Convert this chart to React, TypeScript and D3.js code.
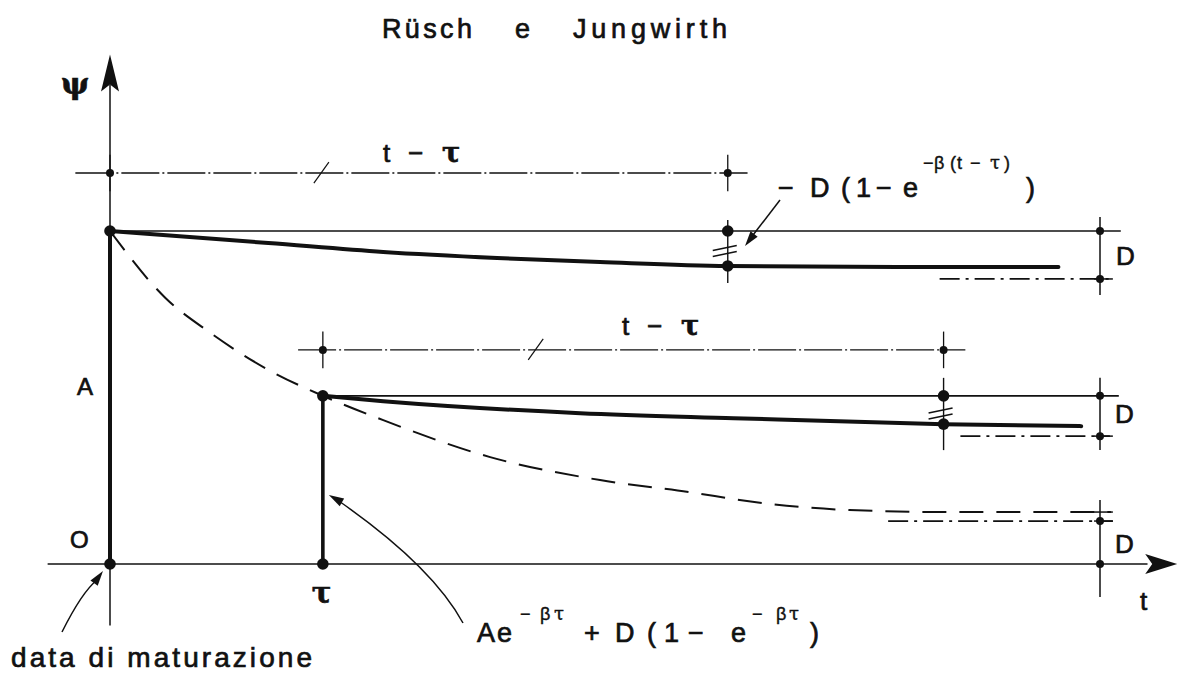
import React from 'react';
import * as d3 from 'd3';

const W = 1184;
const H = 678;

// ---- diagram values (t and ψ in drawing units) ----
const A = 10;               // ψ at the maturation date
const tau = 2.15;           // loading age τ
const t1 = 6.24;            // end of first t − τ span
const t2 = 8.42;            // end of second t − τ span
const tD = 10;              // station where D is dimensioned
const tAxisStart = -0.63;
const tAxisEnd = 10.78;
const psiAxisBottom = -1.85;
const psiAxisTop = 15.3;

// creep curve loaded at t = 0
const curveFromZeroT = [0, 1.6, 2.76, 3.91, 4.95, 6.24, 7.98, 9.58];
const curveFromZeroPsi = [10, 9.64, 9.37, 9.19, 9.07, 8.95, 8.92, 8.92];

// creep curve loaded at τ
const curveFromTauT = [2.15, 2.76, 4.75, 6.3, 8.42, 9.81];
const curveFromTauPsi = [5.05, 4.89, 4.53, 4.38, 4.2, 4.14];

// envelope A e^{-βτ} + D(1 − e^{-βτ})
const envelopeT = [0, 0.56, 1.0, 1.6, 2.15, 2.76, 3.84, 4.95, 5.92, 6.36, 7.47, 8.5, 10.11];
const envelopePsi = [10, 7.99, 6.97, 5.83, 5.05, 4.32, 3.21, 2.52, 2.13, 1.92, 1.62, 1.56, 1.56];

// dash-dot asymptotes
const asymFrom = [8.38, 8.59, 7.86];
const asymTo = [10.1, 10.1, 10.13];
const asymPsi = [8.56, 3.84, 1.29];

// dimension lines for t − τ
const dimPsi = [11.74, 6.43];
const dimFrom = [-0.35, 1.9];
const dimTo = [6.44, 8.64];
const dimA = [0, tau];
const dimB = [t1, t2];

const x = d3.scaleLinear().domain([0, 10]).range([110, 1100]);
const y = d3.scaleLinear().domain([0, 10]).range([564, 231]);

const zip = (ts: number[], ps: number[]) => ts.map((t, i) => [t, ps[i]] as [number, number]);
const smooth = d3
  .line<[number, number]>()
  .x((d) => x(d[0]))
  .y((d) => y(d[1]))
  .curve(d3.curveMonotoneX);

const INK = '#111';
const SANS = '"Liberation Sans", Arial, sans-serif';
const SERIF = '"DejaVu Serif", serif';
const TXT_STROKE = 0.7;

function head(tx: number, ty: number, fx: number, fy: number, len = 14, hw = 4.5) {
  const dx = tx - fx;
  const dy = ty - fy;
  const L = Math.hypot(dx, dy);
  const ux = dx / L;
  const uy = dy / L;
  const bx = tx - ux * len;
  const by = ty - uy * len;
  return `M${tx},${ty}L${bx - uy * hw},${by + ux * hw}L${bx + uy * hw},${by - ux * hw}Z`;
}

function HLine({ t0, t1: tt, psi, w = 1.6, dash }: { t0: number; t1: number; psi: number; w?: number; dash?: string }) {
  return <line x1={x(t0)} x2={x(tt)} y1={y(psi)} y2={y(psi)} stroke={INK} strokeWidth={w} strokeDasharray={dash} />;
}
function VLine({ t, p0, p1, w = 1.5, dash }: { t: number; p0: number; p1: number; w?: number; dash?: string }) {
  return <line x1={x(t)} x2={x(t)} y1={y(p0)} y2={y(p1)} stroke={INK} strokeWidth={w} strokeDasharray={dash} />;
}

type Piece = { s: string; x: number; sup?: boolean; serif?: boolean };

function Formula({ pieces, base, size, supSize, supRise }: { pieces: Piece[]; base: number; size: number; supSize: number; supRise: number }) {
  return (
    <g fill={INK} stroke={INK}>
      {pieces.map((p, i) => (
        <text
          key={i}
          x={p.x}
          y={p.sup ? base - supRise : base}
          fontSize={p.sup ? supSize : size}
          fontFamily={p.serif ? SERIF : SANS}
          strokeWidth={p.sup ? 0.4 : TXT_STROKE}
        >
          {p.s}
        </text>
      ))}
    </g>
  );
}

const topFormula: Piece[] = [
  { s: '−', x: 778 },
  { s: 'D', x: 810 },
  { s: '(', x: 841 },
  { s: '1', x: 856 },
  { s: '−', x: 876 },
  { s: 'e', x: 903 },
  { s: '−', x: 923, sup: true },
  { s: 'β', x: 934, sup: true },
  { s: '(', x: 950, sup: true },
  { s: 't', x: 957, sup: true },
  { s: '−', x: 970, sup: true },
  { s: 'τ', x: 990, sup: true, serif: true },
  { s: ')', x: 1004, sup: true },
  { s: ')', x: 1026 },
];

const bottomFormula: Piece[] = [
  { s: 'A', x: 477 },
  { s: 'e', x: 497 },
  { s: '−', x: 520, sup: true },
  { s: 'β', x: 540, sup: true },
  { s: 'τ', x: 554, sup: true, serif: true },
  { s: '+', x: 584 },
  { s: 'D', x: 615 },
  { s: '(', x: 647 },
  { s: '1', x: 664 },
  { s: '−', x: 688 },
  { s: 'e', x: 731 },
  { s: '−', x: 752, sup: true },
  { s: 'β', x: 776, sup: true },
  { s: 'τ', x: 789, sup: true, serif: true },
  { s: ')', x: 810 },
];

export default function App() {
  const bigDots: [number, number][] = [
    [0, A],
    [0, 0],
    [tau, curveFromTauPsi[0]],
    [tau, 0],
    [t1, A],
    [t1, curveFromZeroPsi[5]],
    [t2, curveFromTauPsi[0]],
    [t2, curveFromTauPsi[4]],
  ];
  const smallDots: [number, number][] = [
    [0, dimPsi[0]],
    [t1, dimPsi[0]],
    [tau, dimPsi[1]],
    [t2, dimPsi[1]],
    [tD, A],
    [tD, asymPsi[0]],
    [tD, curveFromTauPsi[0]],
    [tD, asymPsi[1]],
    [tD, asymPsi[2]],
    [tD, 0],
  ];
  const tickPsi = [asymPsi[0], asymPsi[1], asymPsi[2], envelopePsi[envelopePsi.length - 1]];

  // axis arrow heads
  const yTip = y(psiAxisTop);
  const yArrow = `M${x(0)},${yTip}L${x(0) - 9},${yTip + 37}L${x(0)},${yTip + 30}L${x(0) + 9},${yTip + 37}Z`;
  const xTip = x(tAxisEnd);
  const xArrow = `M${xTip},${y(0)}L${xTip - 32},${y(0) - 10}L${xTip - 25},${y(0)}L${xTip - 32},${y(0) + 10}Z`;

  // leader from bottom formula to the jump at τ
  const lp0 = [463, 623];
  const lc = [432, 566];
  const lp1 = [x(tau) + 6, 495];
  // leader from "data di maturazione" to the origin
  const dp0 = [62, 632];
  const dc = [82, 592];
  const dp1 = [x(0) - 7, y(0) + 7];
  // leader from top formula to the double tick
  const tp0 = [780, 200];
  const tp1 = [745, 246];

  return (
    <svg width={W} height={H} style={{ position: 'absolute', left: 0, top: 0, background: '#fff' }}>
      <rect width={W} height={H} fill="#fff" />

      {/* title */}
      <g fill={INK} stroke={INK} strokeWidth={TXT_STROKE} fontFamily={SANS} fontSize={27}>
        <text x={382} y={38} textLength={90} lengthAdjust="spacing">Rüsch</text>
        <text x={515} y={38}>e</text>
        <text x={573} y={38} textLength={154} lengthAdjust="spacing">Jungwirth</text>
      </g>

      {/* axes */}
      <VLine t={0} p0={psiAxisBottom} p1={psiAxisTop - 0.9} w={1.5} />
      <path d={yArrow} fill={INK} />
      <HLine t0={tAxisStart} t1={tAxisEnd - 0.3} psi={0} w={1.6} />
      <path d={xArrow} fill={INK} />

      {/* reference horizontals */}
      <HLine t0={0} t1={10.21} psi={A} w={1.7} />
      <HLine t0={tau} t1={10.19} psi={curveFromTauPsi[0]} w={1.7} />

      {/* dimension lines t − τ */}
      {dimPsi.map((p, i) => (
        <g key={'dim' + i}>
          <HLine t0={dimFrom[i]} t1={dimTo[i]} psi={p} w={1.4} dash="38,3,2,3" />
          <VLine t={dimA[i]} p0={p - 0.55} p1={p + 0.55} w={1.3} />
          <VLine t={dimB[i]} p0={p - 0.55} p1={p + 0.55} w={1.3} />
          <line
            x1={(x(dimA[i]) + x(dimB[i])) / 2 - 98 - 7}
            x2={(x(dimA[i]) + x(dimB[i])) / 2 - 98 + 8}
            y1={y(p) + 10}
            y2={y(p) - 11}
            stroke={INK}
            strokeWidth={1.2}
          />
        </g>
      ))}

      {/* vertical witness lines */}
      <VLine t={t1} p0={8.44} p1={10.33} w={1.4} />
      <VLine t={t2} p0={3.42} p1={5.59} w={1.4} />
      <VLine t={tD} p0={8.08} p1={10.42} w={1.5} />
      <VLine t={tD} p0={3.42} p1={5.59} w={1.5} />
      <VLine t={tD} p0={-0.99} p1={1.92} w={1.5} />

      {/* short ticks at the D station */}
      {tickPsi.map((p, i) => (
        <HLine key={'tk' + i} t0={9.94} t1={10.13} psi={p} w={1.5} />
      ))}

      {/* asymptotes */}
      {asymPsi.map((p, i) => (
        <HLine key={'as' + i} t0={asymFrom[i]} t1={asymTo[i]} psi={p} w={1.8} dash="20,6,3,6" />
      ))}

      {/* envelope curve */}
      <path d={smooth(zip(envelopeT, envelopePsi)) || ''} fill="none" stroke={INK} strokeWidth={2} strokeDasharray="24,13" />

      {/* creep curves */}
      <path d={smooth(zip(curveFromZeroT, curveFromZeroPsi)) || ''} fill="none" stroke={INK} strokeWidth={4} strokeLinecap="round" />
      <path d={smooth(zip(curveFromTauT, curveFromTauPsi)) || ''} fill="none" stroke={INK} strokeWidth={4} strokeLinecap="round" />

      {/* jumps */}
      <VLine t={0} p0={0} p1={A} w={4} />
      <VLine t={tau} p0={0} p1={curveFromTauPsi[0]} w={3.6} />

      {/* double ticks */}
      {[
        [t1, (y(A) + y(curveFromZeroPsi[5])) / 2],
        [t2, (y(curveFromTauPsi[0]) + y(curveFromTauPsi[4])) / 2 + 1],
      ].map(([t, cy], i) => (
        <g key={'dt' + i} stroke={INK} strokeWidth={1.5}>
          <line x1={x(t) - 15} x2={x(t) + 9} y1={cy + 2} y2={cy - 3} />
          <line x1={x(t) - 15} x2={x(t) + 9} y1={cy + 8} y2={cy + 3} />
        </g>
      ))}

      {/* dots */}
      {bigDots.map(([t, p], i) => (
        <circle key={'b' + i} cx={x(t)} cy={y(p)} r={5.8} fill={INK} />
      ))}
      {smallDots.map(([t, p], i) => (
        <circle key={'s' + i} cx={x(t)} cy={y(p)} r={4} fill={INK} />
      ))}

      {/* leaders */}
      <g stroke={INK} strokeWidth={1.5} fill="none">
        <path d={`M${lp0[0]},${lp0[1]}Q${lc[0]},${lc[1]} ${lp1[0] + 10},${lp1[1] + 6}`} />
        <path d={`M${dp0[0]},${dp0[1]}Q${dc[0]},${dc[1]} ${dp1[0] - 6},${dp1[1] + 9}`} />
        <path d={`M${tp0[0]},${tp0[1]}L${tp1[0] + 5},${tp1[1] - 7}`} />
      </g>
      <path d={head(lp1[0], lp1[1], lc[0] - 30, lc[1] - 30, 15, 4.5)} fill={INK} />
      <path d={head(dp1[0], dp1[1], dc[0] + 4, dc[1] + 2, 15, 4.5)} fill={INK} />
      <path d={head(tp1[0], tp1[1], tp0[0], tp0[1], 15, 4.5)} fill={INK} />

      {/* labels */}
      <g fill={INK} stroke={INK} strokeWidth={TXT_STROKE}>
        <text x={61} y={94} fontFamily={SERIF} fontWeight="bold" fontSize={30}>ψ</text>
        <text x={77} y={395} fontFamily={SANS} fontSize={24}>A</text>
        <text x={70} y={548} fontFamily={SANS} fontSize={24}>O</text>
        <text x={x(tau) - 11} y={603} fontFamily={SERIF} fontWeight="bold" fontSize={29}>τ</text>
        <text x={1140} y={610} fontFamily={SANS} fontSize={26}>t</text>
        <text x={1116} y={265} fontFamily={SANS} fontSize={26}>D</text>
        <text x={1115} y={423} fontFamily={SANS} fontSize={26}>D</text>
        <text x={1115} y={553} fontFamily={SANS} fontSize={26}>D</text>
        <text x={11} y={667} fontFamily={SANS} fontSize={28} textLength={301} lengthAdjust="spacing">
          data di maturazione
        </text>
      </g>

      {/* t − τ labels */}
      {[
        [383, 162],
        [622, 335],
      ].map(([lx, ly], i) => (
        <g key={'tt' + i} fill={INK} stroke={INK} strokeWidth={TXT_STROKE}>
          <text x={lx} y={ly} fontFamily={SANS} fontSize={26}>t</text>
          <text x={lx + 25} y={ly} fontFamily={SANS} fontSize={26}>−</text>
          <text x={lx + 59} y={ly} fontFamily={SERIF} fontWeight="bold" fontSize={27}>τ</text>
        </g>
      ))}

      <Formula pieces={topFormula} base={197} size={27} supSize={18} supRise={28} />
      <Formula pieces={bottomFormula} base={642} size={27} supSize={18} supRise={22} />
    </svg>
  );
}
